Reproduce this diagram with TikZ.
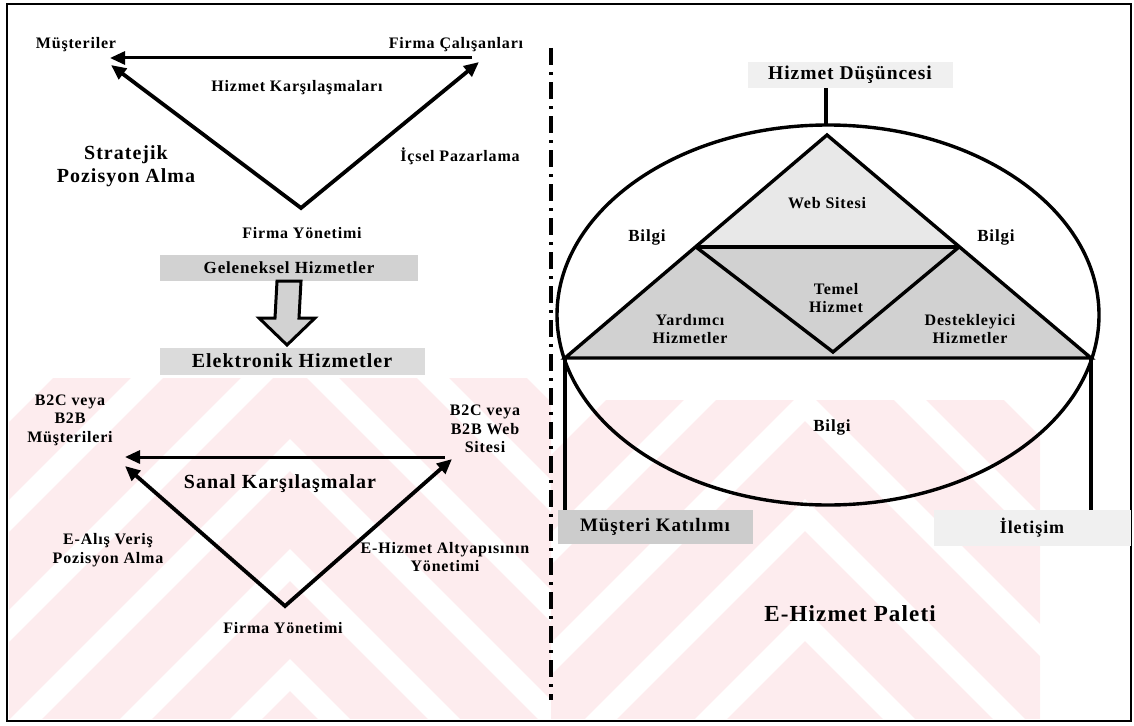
\documentclass[tikz,border=0pt]{standalone}
\usepackage{fontspec}
\setmainfont{Liberation Serif}[LetterSpace=5]
\usetikzlibrary{arrows.meta}
\definecolor{wm}{RGB}{253,236,238}
\begin{document}
\begin{tikzpicture}[x=1pt,y=-1pt,
  lbl/.style={font=\bfseries\fontsize{16}{18.5}\selectfont, align=center, inner sep=0pt},
  mid/.style={font=\bfseries\fontsize{17}{20}\selectfont, align=center, inner sep=0pt},
  big/.style={font=\bfseries\fontsize{20}{23.5}\selectfont, align=center, inner sep=0pt},
  shade/.style={inner sep=0pt, font=\bfseries\fontsize{17}{20}\selectfont},
  tipped/.style={line width=3pt, -{Triangle[length=15pt,width=13pt]}},
  bothtips/.style={line width=3.8pt, line join=miter,
    {Triangle[length=15pt,width=13pt]}-{Triangle[length=15pt,width=13pt]}},
  heavy/.style={line width=3.4pt, line join=miter},
  wmband/.style={line width=55pt, draw=wm, line join=miter}
]
\useasboundingbox (0,0) rectangle (1134,725);

% faint chevron watermark behind the lower half
\begin{scope}
  \clip (9,378) rectangle (551,718);
  \foreach \ay in {180,290,...,840}
    \draw[wmband] (-310,\ay+600) -- (290,\ay) -- (890,\ay+600);
\end{scope}
\begin{scope}
  \clip (551,400) rectangle (1040,718);
  \foreach \ay in {240,350,...,900}
    \draw[wmband] (205,\ay+600) -- (805,\ay) -- (1405,\ay+600);
\end{scope}

% frame and dash-dot divider
\draw[line width=1.5pt] (7,4) rectangle (1131,721);
\coordinate (dtop) at (551,48);
\coordinate (dbot) at (551,700);
\draw[line width=3.5pt, dash pattern=on 17pt off 7pt on 3pt off 7pt] (dtop) -- (dbot);

% ---------- strategic positioning triangle ----------
\coordinate (t1L)  at (110,58);
\coordinate (t1Ld) at (111,65);
\coordinate (t1R)  at (472,58);
\coordinate (t1Rd) at (479,62);
\coordinate (t1A)  at (301,208);
\draw[tipped] (t1R) -- (t1L);
\draw[bothtips] (t1Ld) -- (t1A) -- (t1Rd);

\node[lbl] (must)  at (76,45)  {Müşteriler};
\node[lbl] (calis) at (456,45) {Firma Çalışanları};
\node[lbl] (karsi) at (297,88) {Hizmet Karşılaşmaları};
\node[big] (strat) at (126,166) {Stratejik\\Pozisyon Alma};
\node[lbl] (icsel) at (460,156) {İçsel Pazarlama};
\node[lbl] (yon1)  at (302,233) {Firma Yönetimi};

% ---------- traditional to electronic services ----------
\node[shade, fill=gray!35, minimum width=258pt, minimum height=26pt] (gel) at (289,268) {Geleneksel Hizmetler};
\node[shade, fill=gray!28, minimum width=265pt, minimum height=27pt,
      font=\bfseries\fontsize{20}{23.5}\selectfont] (elk) at (292,361) {Elektronik Hizmetler};
\coordinate (ahtip) at (287,345);
\draw[line width=3pt, fill=gray!35, line join=miter]
  ([xshift=-12pt]gel.south) -- ([xshift=12pt]gel.south) -- (299,318) -- (315,318)
  -- (ahtip) -- (259,318) -- (275,318) -- cycle;

% ---------- virtual encounters triangle ----------
\coordinate (t2L)  at (125,457);
\coordinate (t2Ld) at (125,466);
\coordinate (t2R)  at (445,457);
\coordinate (t2Rd) at (452,459);
\coordinate (t2A)  at (285,606);
\draw[tipped] (t2R) -- (t2L);
\draw[bothtips] (t2Ld) -- (t2A) -- (t2Rd);

\node[lbl] (b2cm)  at (70,420)  {B2C veya\\B2B\\Müşterileri};
\node[lbl] (b2cw)  at (485,429) {B2C veya\\B2B Web\\Sitesi};
\node[big] (sanal) at (280,484) {Sanal Karşılaşmalar};
\node[lbl] (ealis) at (108,550) {E-Alış Veriş\\Pozisyon Alma};
\node[lbl] (ealt)  at (445,557) {E-Hizmet Altyapısının\\Yönetimi};
\node[lbl] (yon2)  at (283,628) {Firma Yönetimi};

% ---------- e-service package ----------
\node[shade, fill=gray!12, minimum width=205pt, minimum height=26pt, font=\bfseries\fontsize{19.5}{23}\selectfont] (hd) at (850,75) {Hizmet Düşüncesi};
\coordinate (etop) at (826,125);
\draw[heavy] (etop |- hd.south) -- (etop);

\coordinate (P)  at (827,135);
\coordinate (BL) at (565,358);
\coordinate (BR) at (1091,358);
\coordinate (ML) at (696,247);
\coordinate (MR) at (959,247);
\coordinate (VB) at (833,352);
\fill[gray!18] (P) -- (ML) -- (MR) -- cycle;
\fill[gray!36] (ML) -- (BL) -- (BR) -- (MR) -- cycle;

\draw[line width=3.4pt] (828,315) ellipse [x radius=271, y radius=190];
\draw[heavy] (BL) -- (P) -- (BR) -- cycle;
\draw[heavy] (ML) -- (MR);
\draw[heavy] (ML) -- (VB) -- (MR);

\node[lbl] (web)   at (827,203) {Web Sitesi};
\node[mid] (bilL)  at (647,237) {Bilgi};
\node[mid] (bilR)  at (996,237) {Bilgi};
\node[lbl] (temel) at (836,298) {Temel\\Hizmet};
\node[lbl] (yard)  at (690,329) {Yardımcı\\Hizmetler};
\node[lbl] (dest)  at (970,329) {Destekleyici\\Hizmetler};
\node[mid] (bilB)  at (832,427) {Bilgi};

\node[shade, fill=gray!40, minimum width=195pt, minimum height=34pt, font=\bfseries\fontsize{19}{22}\selectfont] (mk) at (655,527) {Müşteri Katılımı};
\node[shade, fill=gray!12, minimum width=197pt, minimum height=36pt, font=\bfseries\fontsize{18}{21}\selectfont] (il) at (1032,528) {İletişim};
\draw[heavy] (BL) -- (BL |- mk.north);
\draw[heavy] (BR) -- (BR |- il.north);

\node[font=\bfseries\fontsize{23}{27}\selectfont, inner sep=0pt] (pak) at (850,614) {E-Hizmet Paleti};
\end{tikzpicture}
\end{document}
